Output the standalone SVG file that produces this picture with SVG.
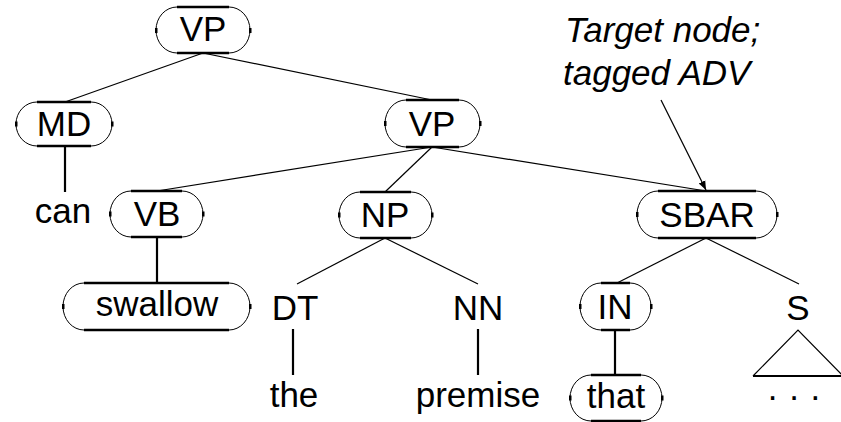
<svg xmlns="http://www.w3.org/2000/svg" width="841" height="422" viewBox="0 0 841 422">
<defs>
<style>
text{font-family:"Liberation Sans",Arial,sans-serif;font-size:35px;fill:#000;text-anchor:middle}
.it{font-style:italic;text-anchor:start}
.arc{fill:none;stroke:#000;stroke-width:1}
.flat{stroke:#000;stroke-width:2.5}
.dot{fill:#000}
.e{stroke:#000;stroke-width:1.2;fill:none}
.t{stroke:#000;stroke-width:2.2;fill:none}
</style>
<marker id="ah" viewBox="0 0 10 10" refX="10" refY="5" markerWidth="9" markerHeight="9" markerUnits="userSpaceOnUse" orient="auto">
<path d="M0,1 L10,5 L0,9 Z" fill="#000"/>
</marker>
</defs>
<rect width="841" height="422" fill="#fff"/>
<g id="connectors">
<line class="e" x1="203" y1="53" x2="65" y2="102"/>
<line class="e" x1="203" y1="53" x2="432" y2="100"/>
<line class="t" x1="65" y1="146" x2="65" y2="192"/>
<line class="e" x1="432" y1="147" x2="157" y2="191"/>
<line class="e" x1="432" y1="147" x2="385" y2="192"/>
<line class="e" x1="432" y1="147" x2="706" y2="191"/>
<line class="t" x1="157" y1="237" x2="157" y2="283"/>
<line class="e" x1="385" y1="238" x2="297" y2="284"/>
<line class="e" x1="385" y1="238" x2="478" y2="284"/>
<line class="t" x1="293" y1="329" x2="293" y2="375"/>
<line class="t" x1="478" y1="329" x2="478" y2="375"/>
<line class="e" x1="706" y1="238" x2="617" y2="283"/>
<line class="e" x1="706" y1="238" x2="799" y2="284"/>
<line class="t" x1="615" y1="330" x2="615" y2="375"/>
<line class="e" x1="661" y1="100" x2="706" y2="190" marker-end="url(#ah)"/>
</g>
<g id="n-vp1">
<path class="arc" d="M177,7 A21,23 0 0 0 177,53 M229,7 A21,23 0 0 1 229,53"/>
<line class="flat" x1="177" y1="7" x2="229" y2="7"/><line class="flat" x1="177" y1="53" x2="229" y2="53"/>
<rect class="dot" x="155" y="28" width="2.5" height="5"/><rect class="dot" x="249" y="28" width="2.5" height="5"/>
<text x="203" y="41">VP</text>
</g>
<g id="n-md">
<path class="arc" d="M37,102 A21,22 0 0 0 37,146 M91,102 A21,22 0 0 1 91,146"/>
<line class="flat" x1="37" y1="102" x2="91" y2="102"/><line class="flat" x1="37" y1="146" x2="91" y2="146"/>
<rect class="dot" x="15" y="121.5" width="2.5" height="5"/><rect class="dot" x="111" y="121.5" width="2.5" height="5"/>
<text x="64" y="136">MD</text>
</g>
<g id="n-vp2">
<path class="arc" d="M406,100 A21,23.5 0 0 0 406,147 M459,100 A21,23.5 0 0 1 459,147"/>
<line class="flat" x1="406" y1="100" x2="459" y2="100"/><line class="flat" x1="406" y1="147" x2="459" y2="147"/>
<rect class="dot" x="384" y="121" width="2.5" height="5"/><rect class="dot" x="479" y="121" width="2.5" height="5"/>
<text x="432" y="136">VP</text>
</g>
<g id="n-can"><text x="63" y="223">can</text></g>
<g id="n-vb">
<path class="arc" d="M131,191 A21,23 0 0 0 131,237 M182,191 A21,23 0 0 1 182,237"/>
<line class="flat" x1="131" y1="191" x2="182" y2="191"/><line class="flat" x1="131" y1="237" x2="182" y2="237"/>
<rect class="dot" x="109" y="211.5" width="2.5" height="5"/><rect class="dot" x="202" y="211.5" width="2.5" height="5"/>
<text x="157" y="226">VB</text>
</g>
<g id="n-np">
<path class="arc" d="M360,192 A21,23 0 0 0 360,238 M411,192 A21,23 0 0 1 411,238"/>
<line class="flat" x1="360" y1="192" x2="411" y2="192"/><line class="flat" x1="360" y1="238" x2="411" y2="238"/>
<rect class="dot" x="338" y="212.5" width="2.5" height="5"/><rect class="dot" x="431" y="212.5" width="2.5" height="5"/>
<text x="385" y="227">NP</text>
</g>
<g id="n-sbar">
<path class="arc" d="M658,191 A21,23.5 0 0 0 658,238 M756,191 A21,23.5 0 0 1 756,238"/>
<line class="flat" x1="658" y1="191" x2="756" y2="191"/><line class="flat" x1="658" y1="238" x2="756" y2="238"/>
<rect class="dot" x="636" y="212" width="2.5" height="5"/><rect class="dot" x="776" y="212" width="2.5" height="5"/>
<text x="707" y="227">SBAR</text>
</g>
<g id="n-swallow">
<path class="arc" d="M84,283 A21,23.5 0 0 0 84,330 M229,283 A21,23.5 0 0 1 229,330"/>
<line class="flat" x1="84" y1="283" x2="229" y2="283"/><line class="flat" x1="84" y1="330" x2="229" y2="330"/>
<rect class="dot" x="62" y="304" width="2.5" height="5"/><rect class="dot" x="249" y="304" width="2.5" height="5"/>
<text x="157" y="316">swallow</text>
</g>
<g id="n-dt"><text x="295" y="320">DT</text></g>
<g id="n-nn"><text x="478" y="320">NN</text></g>
<g id="n-in">
<path class="arc" d="M601,283 A21,23.5 0 0 0 601,330 M630,283 A21,23.5 0 0 1 630,330"/>
<line class="flat" x1="601" y1="283" x2="630" y2="283"/><line class="flat" x1="601" y1="330" x2="630" y2="330"/>
<rect class="dot" x="579" y="304" width="2.5" height="5"/><rect class="dot" x="650" y="304" width="2.5" height="5"/>
<text x="615" y="319">IN</text>
</g>
<g id="n-s">
<text x="798" y="320">S</text>
<path class="e" d="M753,376 L798,330 L843,376"/>
<line class="t" x1="753" y1="376" x2="843" y2="376"/>
<text x="794" y="408">· · ·</text>
</g>
<g id="n-the"><text x="294" y="407">the</text></g>
<g id="n-premise"><text x="478" y="407">premise</text></g>
<g id="n-that">
<path class="arc" d="M591,375 A21,23 0 0 0 591,421 M641,375 A21,23 0 0 1 641,421"/>
<line class="flat" x1="591" y1="375" x2="641" y2="375"/><line class="flat" x1="591" y1="421" x2="641" y2="421"/>
<rect class="dot" x="569" y="395.5" width="2.5" height="5"/><rect class="dot" x="661" y="395.5" width="2.5" height="5"/>
<text x="616" y="408">that</text>
</g>
<g id="label">
<text class="it" x="565" y="42">Target node;</text>
<text class="it" x="563" y="85">tagged ADV</text>
</g>
</svg>
